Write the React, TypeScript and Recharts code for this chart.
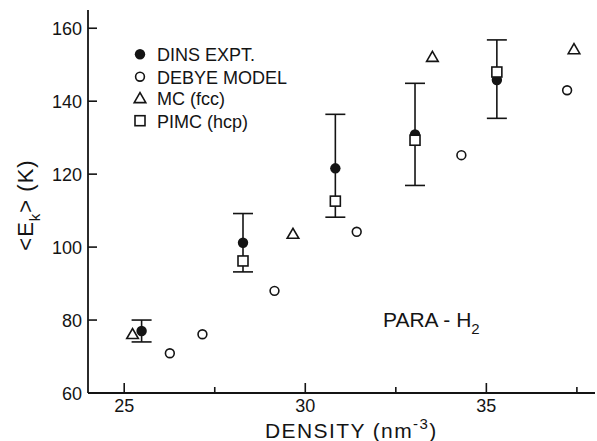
import React from 'react';
import { ScatterChart, Scatter, XAxis, YAxis, ErrorBar } from 'recharts';

// ---------- data ----------
const xTicks = [25, 27.5, 30, 32.5, 35, 37.5];
const xLabelTicks = [25, 30, 35];
const yTicks = [60, 80, 100, 120, 140, 160];
const xDomain = [24, 38];
const yDomain = [60, 165];

const dinsDensity = [25.48, 28.28, 30.83, 33.03, 35.29];
const dinsEk = [77, 101.2, 121.6, 130.9, 145.8];
const dinsErrLow = [3, 8, 13.4, 14, 10.5];
const dinsErrHigh = [3, 8, 14.8, 14, 11];

const debyeDensity = [26.26, 27.16, 29.15, 31.42, 34.31, 37.23];
const debyeEk = [70.9, 76.1, 88, 104.2, 125.2, 143];

const mcDensity = [25.23, 29.66, 33.51, 37.42];
const mcEk = [76.1, 103.6, 152.1, 154.2];

const pimcDensity = [28.28, 30.83, 33.03, 35.29];
const pimcEk = [96.2, 112.6, 129.3, 148];

const legendLabels = ['DINS EXPT.', 'DEBYE MODEL', 'MC (fcc)', 'PIMC (hcp)'];

// ---------- tables ----------
const dinsData = dinsDensity.map((x, i) => ({ x, y: dinsEk[i], err: [dinsErrLow[i], dinsErrHigh[i]] }));
const debyeData = debyeDensity.map((x, i) => ({ x, y: debyeEk[i] }));
const mcData = mcDensity.map((x, i) => ({ x, y: mcEk[i] }));
const pimcData = pimcDensity.map((x, i) => ({ x, y: pimcEk[i] }));

const INK = '#141414';
const FONT = '"Liberation Sans", Arial, sans-serif';
const AXW = 1.8;

// ---------- marker shapes ----------
const FilledCircle = (p: any) => <circle cx={p.cx} cy={p.cy} r={5.2} fill={INK} />;
const OpenCircle = (p: any) => (
  <circle cx={p.cx} cy={p.cy} r={4.4} fill="#fff" stroke={INK} strokeWidth={1.6} />
);
const OpenTriangle = (p: any) => (
  <polygon
    points={`${p.cx - 5.8},${p.cy + 4.3} ${p.cx + 5.8},${p.cy + 4.3} ${p.cx},${p.cy - 5.7}`}
    fill="#fff"
    stroke={INK}
    strokeWidth={1.6}
    strokeLinejoin="miter"
  />
);
const OpenSquare = (p: any) => (
  <rect x={p.cx - 5} y={p.cy - 5} width={10} height={10} fill="#fff" stroke={INK} strokeWidth={1.6} />
);

// ---------- ticks ----------
const BottomTick = (p: any) => {
  const v = p.payload.value;
  const major = xLabelTicks.includes(v);
  return (
    <g>
      <line x1={p.x} x2={p.x} y1={p.y} y2={p.y - (major ? 10 : 6)} stroke={INK} strokeWidth={1.6} />
      {major && (
        <text x={p.x} y={p.y + 19} textAnchor="middle" fontFamily={FONT} fontSize={18} fill={INK}>
          {v}
        </text>
      )}
    </g>
  );
};
const TopTick = (p: any) => {
  const v = p.payload.value;
  const major = xLabelTicks.includes(v);
  return <line x1={p.x} x2={p.x} y1={p.y} y2={p.y + (major ? 10 : 7)} stroke={INK} strokeWidth={1.6} />;
};
const LeftTick = (p: any) => (
  <g>
    <line x1={p.x} x2={p.x + 9} y1={p.y} y2={p.y} stroke={INK} strokeWidth={1.6} />
    <text x={p.x - 6} y={p.y + 6.5} textAnchor="end" fontFamily={FONT} fontSize={18} fill={INK}>
      {p.payload.value}
    </text>
  </g>
);
const RightTick = (p: any) =>
  p.payload.value === 60 ? <g /> : (
    <line x1={p.x} x2={p.x - 8} y1={p.y} y2={p.y} stroke={INK} strokeWidth={1.6} />
  );

// ---------- overlay (titles, legend, annotation) ----------
const legendRows = [54.3, 76.7, 98.3, 120.7];
const legendShapes = [FilledCircle, OpenCircle, OpenTriangle, OpenSquare];

const Overlay = () => (
  <svg
    width={597}
    height={441}
    style={{ position: 'absolute', left: 0, top: 0, pointerEvents: 'none' }}
  >
    {legendRows.map((cy, i) => {
      const S = legendShapes[i];
      return (
        <g key={i}>
          <S cx={140} cy={cy} />
          <text x={157} y={cy + 6.8} fontFamily={FONT} fontSize={18} fill={INK}>
            {legendLabels[i]}
          </text>
        </g>
      );
    })}
    <text x={383} y={327} fontFamily={FONT} fontSize={21} fill={INK}>
      PARA - H<tspan fontSize={15} dy={7}>2</tspan>
    </text>
    <text x={265} y={438} fontFamily={FONT} fontSize={21} fill={INK} letterSpacing={1.4}>
      DENSITY (nm<tspan fontSize={15} dy={-9}>-3</tspan>
      <tspan dy={9}>)</tspan>
    </text>
    <text
      x={0}
      y={0}
      transform="translate(33,205) rotate(-90)"
      textAnchor="middle"
      fontFamily={FONT}
      fontSize={22}
      fill={INK}
      letterSpacing={1}
    >
      {'<E'}
      <tspan fontSize={15} dy={7}>k</tspan>
      <tspan dy={-7}>{'> (K)'}</tspan>
    </text>
  </svg>
);

export default function App() {
  return (
    <div style={{ position: 'absolute', left: 0, top: 0, width: 597, height: 441, background: '#fff' }}>
      <ScatterChart width={597} height={441} margin={{ top: 10, right: 2, bottom: 0, left: 0 }}>
        <XAxis
          dataKey="x"
          type="number"
          domain={xDomain}
          ticks={xTicks}
          allowDataOverflow
          height={48}
          tickSize={0}
          tickMargin={0}
          tickLine={false}
          tick={BottomTick}
          axisLine={{ stroke: INK, strokeWidth: AXW }}
          interval={0}
        />
        <XAxis
          xAxisId="top"
          orientation="top"
          type="number"
          domain={xDomain}
          ticks={xTicks}
          allowDataOverflow
          height={0}
          tickSize={0}
          tickMargin={0}
          tickLine={false}
          tick={TopTick}
          axisLine={{ stroke: INK, strokeWidth: AXW }}
          interval={0}
        />
        <YAxis
          dataKey="y"
          type="number"
          domain={yDomain}
          ticks={yTicks}
          allowDataOverflow
          width={88}
          tickSize={0}
          tickMargin={0}
          tickLine={false}
          tick={LeftTick}
          axisLine={{ stroke: INK, strokeWidth: AXW }}
          interval={0}
        />
        <YAxis
          yAxisId="right"
          orientation="right"
          type="number"
          domain={yDomain}
          ticks={yTicks}
          allowDataOverflow
          width={0}
          tickSize={0}
          tickMargin={0}
          tickLine={false}
          tick={RightTick}
          axisLine={{ stroke: INK, strokeWidth: AXW }}
          interval={0}
        />
        <Scatter data={debyeData} shape={OpenCircle} isAnimationActive={false} />
        <Scatter data={mcData} shape={OpenTriangle} isAnimationActive={false} />
        <Scatter data={dinsData} shape={FilledCircle} isAnimationActive={false}>
          <ErrorBar dataKey="err" direction="y" width={10} stroke={INK} strokeWidth={1.6} isAnimationActive={false} />
        </Scatter>
        <Scatter data={pimcData} shape={OpenSquare} isAnimationActive={false} />
      </ScatterChart>
      <Overlay />
    </div>
  );
}
